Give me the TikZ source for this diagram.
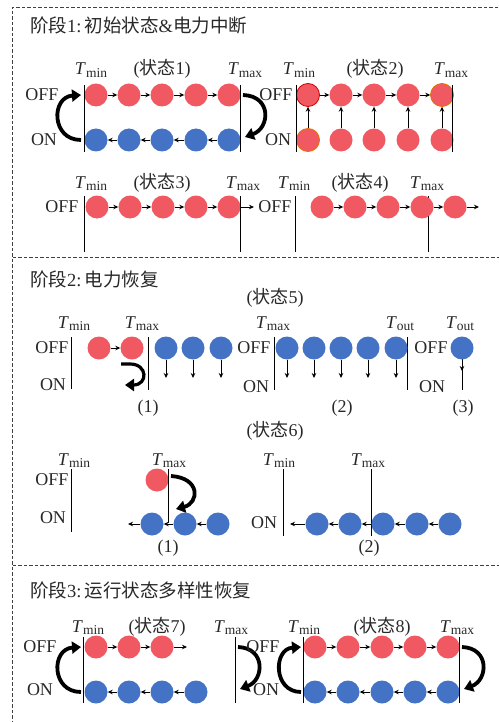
\documentclass[tikz,border=0pt]{standalone}
\usepackage{fontspec}
\setmainfont{Liberation Serif}
\newfontfamily\cjk{Noto Sans CJK SC}
\usetikzlibrary{arrows.meta}
\definecolor{cred}{RGB}{240,88,98}
\definecolor{cblue}{RGB}{68,114,196}
\definecolor{ctext}{RGB}{40,40,40}
\newcommand\Tl[1]{\textit{T}\raisebox{-0.35ex}{\fontsize{13.5}{14}\selectfont #1}}
\newcommand\zt[1]{({\cjk 状态}#1)}
\begin{document}
\begin{tikzpicture}[x=1pt,y=-1pt,
  rc/.style={circle,fill=cred,minimum size=23pt,inner sep=0pt},
  bc/.style={circle,fill=cblue,minimum size=23pt,inner sep=0pt},
  sa/.style={-{Stealth[length=5pt,width=4.5pt]},line width=0.8pt},
  ba/.style={-{Triangle[length=9pt,width=12pt]},line width=3.8pt},
  vl/.style={line width=0.9pt},
  lab/.style={font=\fontsize{18}{20}\selectfont,text=ctext,inner sep=0pt,anchor=base},
  txt/.style={font=\fontsize{18}{20}\selectfont,text=ctext,inner sep=0pt},
  ttl/.style={font=\fontsize{18.5}{20}\selectfont,text=ctext,inner sep=0pt,anchor=base west},
  frame/.style={dash pattern=on 3.5pt off 2pt,line width=0.8pt,black!75}]
\useasboundingbox (0,0) rectangle (498,722);
% frame
\draw[frame] (520,7) -- (12.5,7) -- (12.5,740);
\draw[frame] (12.5,257) -- (520,257);
\draw[frame] (12.5,565) -- (520,565);
% ---------------- Stage 1 ----------------
\node[ttl] (t1) at (30,33) {{\cjk 阶段}1:\,{\cjk 初始状态}\&{\cjk 电力中断}};
% state 1
\node[txt] (off1) at (42,95) {OFF};
\node[txt] (on1) at (44,140) {ON};
\node[lab] (tmin1) at (91,75) {\Tl{min}};
\node[lab] (z1) at (162,75) {\zt{1}};
\node[lab] (tmax1) at (245,75) {\Tl{max}};
\foreach \i/\x in {1/96,2/129,3/162,4/196,5/229}{
  \node[rc] (a\i) at (\x,95) {};
  \node[bc] (b\i) at (\x,140) {};}
\foreach \i/\j in {1/2,2/3,3/4,4/5}{
  \draw[sa] (a\i) -- (a\j);
  \draw[sa] (b\j) -- (b\i);}
\draw[vl] (84,85) -- (84,152);
\draw[vl] (240,85) -- (240,152);
\coordinate (l1s) at (81,140); \coordinate (l1e) at (81,95);
\draw[ba] (l1s) .. controls (51,140) and (51,97) .. (l1e);
\coordinate (r1s) at (243,95); \coordinate (r1e) at (245,137);
\draw[ba] (r1s) .. controls (272,96) and (270,128) .. (r1e);
% state 2
\node[txt] (off2) at (276,95) {OFF};
\node[txt] (on2) at (278,140) {ON};
\node[lab] (tmin2) at (299,75) {\Tl{min}};
\node[lab] (z2) at (375,75) {\zt{2}};
\node[lab] (tmax2) at (451,75) {\Tl{max}};
\foreach \i/\x in {1/308,2/341,3/374,4/408,5/442}{
  \node[rc] (c\i) at (\x,95) {};
  \node[rc] (d\i) at (\x,140) {};
  \draw[sa] (d\i) -- (c\i);}
\node[rc,draw=red!85!black,line width=0.8pt] at (c1) {};
\node[rc,draw=orange!90!black,line width=0.8pt] at (c5) {};
\node[rc,draw=orange!90!black,line width=0.8pt] at (d1) {};
\foreach \i/\j in {1/2,2/3,3/4,4/5}{\draw[sa] (c\i) -- (c\j);}
\draw[vl] (296,85) -- (296,152);
\draw[vl] (452,85) -- (452,152);
% state 3
\node[txt] (off3) at (62,207) {OFF};
\node[lab] (tmin3) at (91,188) {\Tl{min}};
\node[lab] (z3) at (162,188) {\zt{3}};
\node[lab] (tmax3) at (243,188) {\Tl{max}};
\foreach \i/\x in {1/97,2/130,3/163,4/196,5/229}{\node[rc] (e\i) at (\x,207) {};}
\foreach \i/\j in {1/2,2/3,3/4,4/5}{\draw[sa] (e\i) -- (e\j);}
\coordinate (e6) at (254,207);
\draw[sa] (e5) -- (e6);
\draw[vl] (84,196) -- (84,252);
\draw[vl] (240,196) -- (240,252);
% state 4
\node[txt] (off4) at (275,207) {OFF};
\node[lab] (tmin4) at (294,188) {\Tl{min}};
\node[lab] (z4) at (360,188) {\zt{4}};
\node[lab] (tmax4) at (427,188) {\Tl{max}};
\draw[vl] (295,196) -- (295,252);
\draw[vl] (428,196) -- (428,252);
\foreach \i/\x in {1/322,2/355,3/388,4/422,5/455}{\node[rc] (f\i) at (\x,207) {};}
\foreach \i/\j in {1/2,2/3,3/4,4/5}{\draw[sa] (f\i) -- (f\j);}
\coordinate (f6) at (479,207);
\draw[sa] (f5) -- (f6);
% ---------------- Stage 2 ----------------
\node[ttl] (t2) at (30,286) {{\cjk 阶段}2:\,{\cjk 电力恢复}};
\node[lab] (z5) at (275,303) {\zt{5}};
\node[lab] (tmin5) at (74,328) {\Tl{min}};
\node[lab] (tmax5) at (142,328) {\Tl{max}};
\node[lab] (tmax5b) at (273,328) {\Tl{max}};
\node[lab] (tout5) at (400,328) {\Tl{out}};
\node[lab] (tout5b) at (460,328) {\Tl{out}};
\node[txt] (off5) at (52,348) {OFF};
\node[txt] (on5) at (53,385) {ON};
\draw[vl] (71,337) -- (71,389);
\node[rc] (g1) at (99,348) {};
\node[rc] (g2) at (132,348) {};
\draw[sa] (g1) -- (g2);
\coordinate (u1) at (121,364); \coordinate (u2) at (125,385);
\draw[ba,line width=3.2pt] (u1) -- (130,364) .. controls (148,364) and (148,385) .. (u2);
\draw[vl] (148,337) -- (148,390);
\foreach \i/\x in {1/166,2/193,3/221}{
  \node[bc] (h\i) at (\x,348) {};
  \coordinate (hh\i) at (\x,378);
  \draw[sa] (h\i) -- (hh\i);}
\node[txt] (off5b) at (254,348) {OFF};
\node[txt] (on5b) at (256,387) {ON};
\draw[vl] (274,337) -- (274,390);
\draw[vl] (407,337) -- (407,390);
\foreach \i/\x in {1/287,2/314,3/341,4/368,5/396}{
  \node[bc] (k\i) at (\x,348) {};
  \coordinate (kk\i) at (\x,378);
  \draw[sa] (k\i) -- (kk\i);}
\node[txt] (off5c) at (431,348) {OFF};
\node[txt] (on5c) at (432,387) {ON};
\coordinate (m0) at (462,390);
\coordinate (m1) at (462,371);
\draw[vl] (462,350) -- (m0);
\node[bc] (m) at (462,348) {};
\draw[sa] (m) -- (m1);
\node[lab] (p1) at (148,412) {(1)};
\node[lab] (p2) at (342,412) {(2)};
\node[lab] (p3) at (463,412) {(3)};
% state 6
\node[lab] (z6) at (275,436) {\zt{6}};
\node[lab] (tmin6) at (74,465) {\Tl{min}};
\node[lab] (tmax6) at (169,465) {\Tl{max}};
\node[lab] (tmin6b) at (279,465) {\Tl{min}};
\node[lab] (tmax6b) at (368,465) {\Tl{max}};
\node[txt] (off6) at (52,480) {OFF};
\node[txt] (on6) at (53,518) {ON};
\draw[vl] (71,469) -- (71,532);
\node[rc] (n0) at (157,480) {};
\foreach \i/\x in {1/152,2/185,3/218}{\node[bc] (n\i) at (\x,524) {};}
\draw[sa] (n3) -- (n2);
\draw[sa] (n2) -- (n1);
\coordinate (n4) at (128,524);
\draw[sa] (n1) -- (n4);
\draw[vl] (168,469) -- (168,523);
\coordinate (v1) at (171,476); \coordinate (v2) at (176,509);
\draw[ba] (v1) .. controls (201,478) and (199,503) .. (v2);
\node[lab] (p4) at (168,552) {(1)};
\node[txt] (on6b) at (264,523) {ON};
\draw[vl] (283,469) -- (283,536);
\draw[vl] (371,469) -- (371,536);
\foreach \i/\x in {1/317,2/350,3/383,4/417,5/450}{\node[bc] (q\i) at (\x,524) {};}
\foreach \i/\j in {1/2,2/3,3/4,4/5}{\draw[sa] (q\j) -- (q\i);}
\coordinate (q0) at (290,524);
\draw[sa] (q1) -- (q0);
\node[lab] (p5) at (369,552) {(2)};
% ---------------- Stage 3 ----------------
\node[ttl] (t3) at (30,597) {{\cjk 阶段}3:\,{\cjk 运行状态多样性恢复}};
% state 7
\node[txt] (off7) at (40,647) {OFF};
\node[txt] (on7) at (40,690) {ON};
\node[lab] (tmin7) at (88,632) {\Tl{min}};
\node[lab] (z7) at (157,632) {\zt{7}};
\node[lab] (tmax7) at (231,632) {\Tl{max}};
\foreach \i/\x in {1/96,2/129,3/162}{\node[rc] (r\i) at (\x,647) {};}
\foreach \i/\x in {1/96,2/129,3/162,4/196}{\node[bc] (s\i) at (\x,692) {};}
\draw[sa] (r1) -- (r2); \draw[sa] (r2) -- (r3);
\coordinate (r4) at (187,647);
\draw[sa] (r3) -- (r4);
\foreach \i/\j in {1/2,2/3,3/4}{\draw[sa] (s\j) -- (s\i);}
\draw[vl] (83,637) -- (83,703);
\draw[vl] (235,637) -- (235,703);
\coordinate (l7s) at (81,692); \coordinate (l7e) at (81,647);
\draw[ba] (l7s) .. controls (51,692) and (51,649) .. (l7e);
\coordinate (r7s) at (238,647); \coordinate (r7e) at (240,689);
\draw[ba] (r7s) .. controls (266,648) and (264,680) .. (r7e);
% state 8
\node[txt] (off8) at (263,647) {OFF};
\node[txt] (on8) at (266,690) {ON};
\node[lab] (tmin8) at (304,632) {\Tl{min}};
\node[lab] (z8) at (382,632) {\zt{8}};
\node[lab] (tmax8) at (457,632) {\Tl{max}};
\foreach \i/\x in {1/315,2/348,3/382,4/415,5/448}{
  \node[rc] (w\i) at (\x,647) {};
  \node[bc] (y\i) at (\x,692) {};}
\foreach \i/\j in {1/2,2/3,3/4,4/5}{
  \draw[sa] (w\i) -- (w\j);
  \draw[sa] (y\j) -- (y\i);}
\draw[vl] (303,637) -- (303,703);
\draw[vl] (459,637) -- (459,703);
\coordinate (l8s) at (301,692); \coordinate (l8e) at (301,647);
\draw[ba] (l8s) .. controls (273,692) and (273,649) .. (l8e);
\coordinate (r8s) at (462,647); \coordinate (r8e) at (464,689);
\draw[ba] (r8s) .. controls (490,648) and (488,680) .. (r8e);
\end{tikzpicture}
\end{document}
